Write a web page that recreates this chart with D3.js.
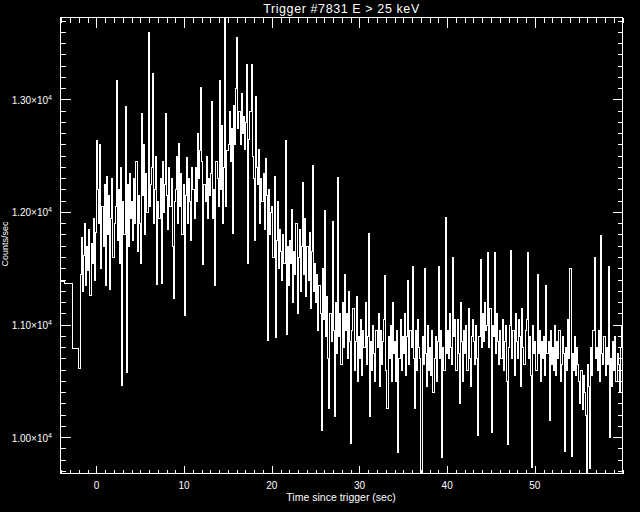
<!DOCTYPE html>
<html>
<head>
<meta charset="utf-8">
<script src="https://cdn.jsdelivr.net/npm/d3@7"></script>
<style>
  body { margin: 0; background: #000; }
  svg { display: block; }
  text { fill: #fff; font-family: "Liberation Sans", "DejaVu Sans", sans-serif; }
</style>
</head>
<body>
<div id="chart"></div>
<script>
// coarse (pre-trigger) bins: edges in sec and rates in counts/sec
var coarseEdges = [-4.6, -3.72, -2.74, -2.05];
var coarseRates = [11390, 11365, 10795];

// fine bins start at -2.05 s, 8 bins per second (one row = one second)
var fineStart = -2.05, fineStep = 0.125;
var fineRates = [
  10611, 11450, 11780, 11300, 11620, 11900, 11350, 11700,
  11480, 11850, 11260, 11720, 11550, 11950, 11400, 11820,
  12640, 12200, 11900, 12600, 11500, 12050, 11700, 12250,
  11350, 12320, 11800, 12150, 11320, 11950, 12300, 11600,
  11900, 12050, 13170, 11750, 12200, 11550, 12400, 10460,
  12100, 11800, 12940, 10580, 12250, 11700, 12350, 11950,
  12100, 11750, 12300, 11900, 12450, 11650, 12150, 11900,
  11550, 12880, 12150, 12600, 11800, 12350, 12000, 13600,
  12050, 12250, 12400, 13230, 11900, 12200, 12500, 11357,
  12100, 11950, 12300, 11370, 12450, 12000, 12250, 12880,
  12150, 11850, 12400, 12050, 12300, 11700, 11233, 12100,
  12200, 12500, 11900, 12610, 12050, 12350, 11800, 12250,
  11082, 12150, 12485, 11900, 12300, 12100, 11750, 12400,
  12200, 11950, 12400, 12100, 12700, 12300, 12550, 13110,
  12450, 11540, 12250, 12100, 12500, 11950, 12300, 12150,
  12350, 12985, 11950, 12200, 11350, 12450, 12300, 12050,
  13170, 12200, 12770, 11900, 12400, 13720, 12050, 12550,
  12600, 12900, 12450, 12750, 11810, 12950, 12600, 13100,
  13550, 12750, 12900, 12600, 13060, 12700, 12850, 12560,
  12800, 13310, 11550, 12650, 12900, 13310, 12500, 12300,
  11750, 13030, 12400, 12250, 12560, 11900, 12300, 12100,
  12350, 11850, 12480, 12150, 10860, 12200, 11800, 12000,
  12050, 11600, 12320, 10890, 11750, 12100, 11500, 11850,
  11650, 11400, 11800, 11550, 12640, 10920, 11700, 11350,
  11750, 11550, 12030, 11200, 11650, 11450, 11900, 11100,
  11600, 11850, 11300, 11700, 12270, 11450, 11950, 11250,
  11700, 11400, 11820, 11150, 11650, 12420, 11300, 11550,
  11200, 11450, 10950, 11350, 11100, 10060, 11500, 11050,
  12020, 10900, 11250, 10700, 10260, 11100, 10850, 11920,
  10950, 10190, 11200, 10750, 12310, 10900, 11100, 10650,
  11200, 10800, 11450, 10950, 11100, 10700, 11300, 10850,
  9947, 10950, 11150, 10600, 10850, 11250, 10500, 10900,
  10700, 11050, 10550, 10950, 10800, 11200, 10650, 10900,
  11810, 10190, 10850, 10600, 11000, 10750, 10500, 10950,
  10800, 11100, 10450, 10950, 10650, 10850, 11050, 11440,
  10600, 10260, 10900, 10700, 11000, 10500, 11200, 10750,
  10850, 10500, 10950, 9867, 10700, 11050, 10600, 10900,
  10750, 11100, 10550, 10900, 11400, 10650, 10950, 10800,
  11520, 10700, 10260, 10950, 10600, 11050, 10800, 10700,
  9690, 10900, 10650, 11500, 10750, 10450, 11000, 10600,
  10800, 10550, 10950, 10400, 10700, 10900, 10500, 10850,
  11520, 10700, 10950, 9822, 10800, 10600, 11955, 10750,
  10950, 10700, 11100, 10800, 10650, 11600, 10900, 11050,
  10600, 11050, 10750, 10300, 11200, 10850, 10500, 10950,
  10750, 11000, 10600, 11150, 10700, 10450, 10900, 11050,
  10850, 10650, 11000, 10700, 10015, 10900, 11580, 10800,
  11100, 10850, 11200, 10950, 11000, 11640, 10800, 11150,
  10050, 11000, 10900, 11640, 10750, 11100, 10850, 10650,
  10950, 10700, 11050, 10600, 10850, 11000, 10500, 9940,
  10800, 11000, 11665, 10700, 10950, 10550, 11100, 10850,
  10700, 11050, 10900, 10450, 11150, 10800, 10650, 10950,
  11050, 11640, 10700, 10900, 10550, 9733, 11000, 10750,
  10850, 10600, 11450, 10750, 10950, 10500, 10850, 10700,
  10900, 10550, 11350, 10750, 10850, 10150, 10950, 10650,
  10800, 10600, 11000, 10550, 10850, 10700, 10950, 10500,
  10650, 10900, 10750, 9880, 10800, 10600, 11050, 10700,
  11500, 9830, 10750, 10600, 10900, 10550, 10800, 10650,
  10500, 10300, 10600, 10250, 10550, 10400, 10200, 9690,
  10650, 10450, 9730, 10800, 10550, 10950, 11600, 10700,
  10800, 10600, 10950, 10500, 11795, 10750, 10650, 10900,
  10550, 10800, 10650, 11520, 10000, 10700, 10450, 10850,
  10600, 10900, 10500, 10750, 10650, 10400, 10800, 10990,
  10990, 10990
];

var xMajor = [0, 10, 20, 30, 40, 50];
var yMajor = [10000, 11000, 12000, 13000];
var yLabels = ["1.00", "1.10", "1.20", "1.30"];

var titleText = "Trigger #7831 E > 25 keV";
var xTitle = "Time since trigger (sec)";
var yTitle = "Counts/sec";

var W = 640, H = 512;
// plot box (pixel edges)
var pLeft = 60.5, pRight = 622.5, pTop = 17.5, pBottom = 473.5;

var svg = d3.select("#chart").append("svg")
    .attr("width", W).attr("height", H)
    .style("background", "#000");

var x = d3.scaleLinear().domain([-4.1, 60.0]).range([pLeft, pRight]);
var y = d3.scaleLinear().domain([9677, 13727]).range([pBottom, pTop]);

// build the binned series as points for a step line
var pts = [];
coarseRates.forEach(function(v, i) { pts.push([coarseEdges[i], v]); });
fineRates.forEach(function(v, i) { pts.push([fineStart + i * fineStep, v]); });
pts.push([fineStart + fineRates.length * fineStep, fineRates[fineRates.length - 1]]);

svg.append("clipPath").attr("id", "clip")
  .append("rect").attr("x", pLeft).attr("y", pTop)
  .attr("width", pRight - pLeft).attr("height", pBottom - pTop);

var line = d3.line()
    .x(function(d) { return Math.round(x(d[0])) + 0.5; })
    .y(function(d) { return Math.round(y(d[1])) + 0.5; })
    .curve(d3.curveStepAfter);

svg.append("path")
    .datum(pts)
    .attr("clip-path", "url(#clip)")
    .attr("d", line)
    .attr("fill", "none")
    .attr("stroke", "#fff")
    .attr("stroke-width", 1)
    .attr("shape-rendering", "crispEdges");

// minor tick values
var xMinor = d3.range(-4, 61, 1).filter(function(v) { return xMajor.indexOf(v) < 0; });
var yMinor = d3.range(9700, 13800, 100).filter(function(v) { return v % 1000 != 0; });

function tickAxis(axis, pos, vals, len) {
  var g = svg.append("g").attr("transform", pos)
      .call(axis.tickValues(vals).tickSize(len).tickFormat(""));
  g.select(".domain").remove();
  g.selectAll("line").attr("stroke", "#fff").attr("shape-rendering", "crispEdges");
  return g;
}

// all four sides get ticks pointing in
tickAxis(d3.axisBottom(x), "translate(0," + pBottom + ")", xMinor, -4);
tickAxis(d3.axisBottom(x), "translate(0," + pBottom + ")", xMajor, -8);
tickAxis(d3.axisTop(x), "translate(0," + pTop + ")", xMinor, -5);
tickAxis(d3.axisTop(x), "translate(0," + pTop + ")", xMajor, -10);
tickAxis(d3.axisLeft(y), "translate(" + pLeft + ",0)", yMinor, -5);
tickAxis(d3.axisLeft(y), "translate(" + pLeft + ",0)", yMajor, -10);
tickAxis(d3.axisRight(y), "translate(" + pRight + ",0)", yMinor, -5);
tickAxis(d3.axisRight(y), "translate(" + pRight + ",0)", yMajor, -10);

// frame
svg.append("rect")
    .attr("x", pLeft).attr("y", pTop)
    .attr("width", pRight - pLeft).attr("height", pBottom - pTop)
    .attr("fill", "none").attr("stroke", "#fff")
    .attr("shape-rendering", "crispEdges");

// x tick labels
svg.append("g").selectAll("text")
  .data(xMajor).enter().append("text")
    .attr("x", function(d) { return x(d); })
    .attr("y", 489)
    .attr("text-anchor", "middle")
    .attr("font-size", 10)
    .text(function(d) { return d; });

// y tick labels with superscript exponent
var yl = svg.append("g").selectAll("text")
  .data(yMajor).enter().append("text")
    .attr("x", 52)
    .attr("y", function(d) { return y(d) + 4.5; })
    .attr("text-anchor", "end")
    .attr("font-size", 10);
yl.append("tspan").text(function(d, i) { return yLabels[i] + "\u00d710"; });
yl.append("tspan").attr("font-size", 7).attr("dy", -4).text("4");

// titles
svg.append("text")
    .attr("x", 341.5).attr("y", 13)
    .attr("text-anchor", "middle")
    .attr("font-size", 12.5)
    .attr("letter-spacing", 0.6)
    .text(titleText);

svg.append("text")
    .attr("x", 341).attr("y", 501)
    .attr("text-anchor", "middle")
    .attr("font-size", 10.5)
    .text(xTitle);

svg.append("text")
    .attr("transform", "translate(8,244) rotate(-90)")
    .attr("text-anchor", "middle")
    .attr("font-size", 9)
    .text(yTitle);
</script>
</body>
</html>
